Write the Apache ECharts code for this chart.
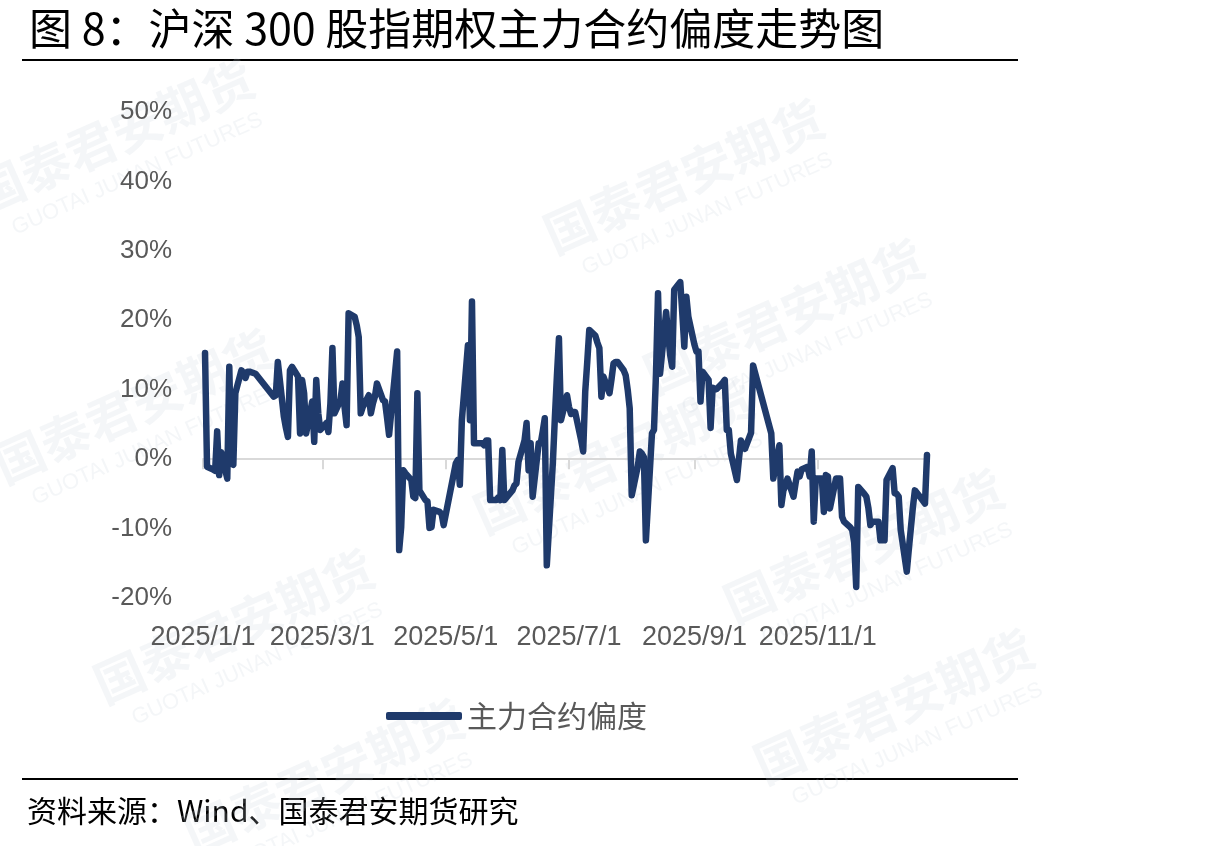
<!DOCTYPE html>
<html>
<head>
<meta charset="utf-8">
<script src="https://cdn.jsdelivr.net/npm/echarts@6/dist/echarts.min.js"></script>
<style>
html, body { margin: 0; padding: 0; background: #fff; }
#chart { width: 1220px; height: 846px; }
</style>
</head>
<body>
<div id="chart"></div>
<script>
// 交易日
var dates = [
    "2025-01-02","2025-01-03","2025-01-06","2025-01-07","2025-01-08","2025-01-09","2025-01-10","2025-01-13","2025-01-14","2025-01-15",
    "2025-01-16","2025-01-17","2025-01-20","2025-01-21","2025-01-22","2025-01-23","2025-01-24","2025-01-27",
    "2025-02-05","2025-02-06","2025-02-07","2025-02-10","2025-02-11","2025-02-12","2025-02-13","2025-02-14","2025-02-17","2025-02-18",
    "2025-02-19","2025-02-20","2025-02-21","2025-02-24","2025-02-25","2025-02-26","2025-02-27","2025-02-28",
    "2025-03-03","2025-03-04","2025-03-05","2025-03-06","2025-03-07","2025-03-10","2025-03-11","2025-03-12","2025-03-13","2025-03-14",
    "2025-03-17","2025-03-18","2025-03-19","2025-03-20","2025-03-21","2025-03-24","2025-03-25","2025-03-26","2025-03-27","2025-03-28","2025-03-31",
    "2025-04-01","2025-04-02","2025-04-03","2025-04-07","2025-04-08","2025-04-09","2025-04-10","2025-04-11","2025-04-14","2025-04-15",
    "2025-04-16","2025-04-17","2025-04-18","2025-04-21","2025-04-22","2025-04-23","2025-04-24","2025-04-25","2025-04-28","2025-04-29","2025-04-30",
    "2025-05-06","2025-05-07","2025-05-08","2025-05-09","2025-05-12","2025-05-13","2025-05-14","2025-05-15","2025-05-16","2025-05-19",
    "2025-05-20","2025-05-21","2025-05-22","2025-05-23","2025-05-26","2025-05-27","2025-05-28","2025-05-29","2025-05-30",
    "2025-06-03","2025-06-04","2025-06-05","2025-06-06","2025-06-09","2025-06-10","2025-06-11","2025-06-12","2025-06-13","2025-06-16",
    "2025-06-17","2025-06-18","2025-06-19","2025-06-20","2025-06-23","2025-06-24","2025-06-25","2025-06-26","2025-06-27","2025-06-30",
    "2025-07-01","2025-07-02","2025-07-03","2025-07-04","2025-07-07","2025-07-08","2025-07-09","2025-07-10","2025-07-11","2025-07-14",
    "2025-07-15","2025-07-16","2025-07-17","2025-07-18","2025-07-21","2025-07-22","2025-07-23","2025-07-24","2025-07-25","2025-07-28",
    "2025-07-29","2025-07-30","2025-07-31",
    "2025-08-01","2025-08-04","2025-08-05","2025-08-06","2025-08-07","2025-08-08","2025-08-11","2025-08-12","2025-08-13","2025-08-14",
    "2025-08-15","2025-08-18","2025-08-19","2025-08-20","2025-08-21","2025-08-22","2025-08-25","2025-08-26","2025-08-27","2025-08-28","2025-08-29",
    "2025-09-01","2025-09-02","2025-09-03","2025-09-04","2025-09-05","2025-09-08","2025-09-09","2025-09-10","2025-09-11","2025-09-12",
    "2025-09-15","2025-09-16","2025-09-17","2025-09-18","2025-09-19","2025-09-22","2025-09-23","2025-09-24","2025-09-25","2025-09-26",
    "2025-09-29","2025-09-30",
    "2025-10-09","2025-10-10","2025-10-13","2025-10-14","2025-10-15","2025-10-16","2025-10-17","2025-10-20","2025-10-21","2025-10-22",
    "2025-10-23","2025-10-24","2025-10-27","2025-10-28","2025-10-29","2025-10-30","2025-10-31",
    "2025-11-03","2025-11-04","2025-11-05","2025-11-06","2025-11-07","2025-11-10","2025-11-11","2025-11-12","2025-11-13","2025-11-14",
    "2025-11-17","2025-11-18","2025-11-19","2025-11-20","2025-11-21","2025-11-24","2025-11-25","2025-11-26","2025-11-27","2025-11-28",
    "2025-12-01","2025-12-02","2025-12-03","2025-12-04","2025-12-05","2025-12-08","2025-12-09","2025-12-10","2025-12-11","2025-12-12",
    "2025-12-15","2025-12-16","2025-12-17","2025-12-18","2025-12-19","2025-12-22","2025-12-23","2025-12-24","2025-12-25"
];
// 主力合约偏度(%)
var skew = [
    15.3, -1.1, -1.5, -1.7, 4.0, -2.3, 1.0, -2.8, 13.3, -0.6,
    -0.8, 9.5, 12.8, 12.4, 11.7, 12.6, 12.6, 12.3,
    9.0, 9.2, 14.0, 6.1, 4.5, 3.2, 12.8, 13.3, 11.9, 3.7,
    11.4, 9.5, 3.7, 8.3, 2.5, 11.4, 6.6, 4.2,
    5.2, 3.9, 8.0, 16.0, 6.6, 8.5, 10.9, 7.5, 4.9, 21.0,
    20.5, 19.3, 17.6, 6.6, 7.5, 9.2, 6.6, 8.0, 9.0, 10.9, 8.5,
    8.3, 6.0, 3.5, 15.5, -13.1, -9.8, -1.6, -2.0, -3.0, -5.4,
    -5.6, 9.5, -4.5, -5.9, -6.1, -9.9, -9.8, -7.3, -7.6, -7.9, -9.5,
    -0.6, -0.1, -3.7, 5.6, 16.4, 5.6, 22.7, 2.3, 2.3, 2.3,
    2.0, 2.7, 2.7, -5.9, -5.9, -5.5, -5.9, 1.3, -5.9,
    -4.5, -3.8, -3.5, -0.4, 2.7, 5.2, -1.6, 2.3, -5.4, 2.3,
    2.3, 4.0, 5.9, -15.3, -0.5, 6.0, 12.0, 17.4, 5.6, 9.2,
    7.5, 6.5, 6.8, 6.8, 2.7, 1.1, 9.7, 14.0, 18.6, 17.8,
    16.8, 16.0, 9.0, 11.9, 9.5, 11.5, 13.8, 14.0, 14.0, 12.8,
    12.1, 10.0, 7.3,
    -5.2, -1.0, 1.1, 0.8, 0.3, -11.7, 3.7, 4.2, 12.3, 23.9,
    12.3, 21.2, 18.0, 15.0, 13.3, 24.4, 25.5, 21.0, 16.2, 23.4, 20.5,
    16.5, 15.5, 15.5, 8.3, 12.6, 11.4, 4.5, 10.3, 10.0, 10.1,
    11.0, 11.4, 4.2, 4.2, 0.8, -3.0, 0.0, 2.7, 1.8, 1.5,
    3.8, 13.5,
    3.7, -2.8, 2.0, -6.6, -4.5, -3.8, -2.8, -5.4, -3.5, -1.8,
    -2.5, -1.5, -1.1, -2.5, 1.1, -9.0, -2.8,
    -2.8, -7.6, -2.3, -2.5, -7.1, -2.8, -2.8, -2.8, -8.3, -9.0,
    -9.8, -10.2, -12.0, -18.4, -4.0, -5.0, -5.4, -7.0, -9.5, -9.0,
    -9.0, -11.7, -11.7, -11.7, -3.0, -1.3, -4.9, -5.0, -5.4, -10.2,
    -16.2, -13.0, -10.0, -7.0, -4.5, -5.6, -6.0, -6.4, 0.6
];
// 横轴刻度日期
var tickDates = ["2025-01-01", "2025-03-01", "2025-05-01", "2025-07-01", "2025-09-01", "2025-11-01"];
var yMin = -20, yMax = 50, yStep = 10;
var seriesName = "主力合约偏度";

function toTime(s) {
    var p = s.split("-");
    return Date.UTC(+p[0], +p[1] - 1, +p[2]);
}

var tickValues = tickDates.map(toTime);
var lineData = [];
for (var i = 0; i < dates.length; i++) {
    lineData.push([toTime(dates[i]), skew[i]]);
}
var xMin = toTime("2025-01-01");
var xMax = toTime(dates[dates.length - 1]);

function fmtDate(v) {
    var d = new Date(v);
    return d.getUTCFullYear() + "/" + (d.getUTCMonth() + 1) + "/" + d.getUTCDate();
}

// 水印
var marks = [
    { x: 120, y: 150 }, { x: 690, y: 190 }, { x: 790, y: 330 }, { x: 140, y: 420 },
    { x: 620, y: 470 }, { x: 870, y: 560 }, { x: 240, y: 640 }, { x: 900, y: 720 }, { x: 330, y: 790 }
];
var graphics = [
    { type: "line", shape: { x1: 22, y1: 60, x2: 1018, y2: 60 }, style: { stroke: "#000", lineWidth: 2 } },
    { type: "line", shape: { x1: 22, y1: 779, x2: 1018, y2: 779 }, style: { stroke: "#000", lineWidth: 2 } },
    { type: "text", left: 27, top: 796, style: { text: "资料来源：Wind、国泰君安期货研究", font: "30px 'Noto Sans CJK SC'", fill: "#000" } }
];
marks.forEach(function (m) {
    graphics.push({
        type: "group", x: m.x, y: m.y, rotation: Math.PI / 7.5, z: -10, silent: true,
        children: [
            { type: "text", x: -150, y: -40, style: { text: "国泰君安期货", font: "bold 50px 'Noto Sans CJK SC'", fill: "rgba(200,208,220,0.2)" } },
            { type: "text", x: -130, y: 18, style: { text: "GUOTAI JUNAN FUTURES", font: "22px 'Liberation Sans'", fill: "rgba(200,208,220,0.2)" } }
        ]
    });
});

var chart = echarts.init(document.getElementById("chart"), null, { renderer: "canvas" });
var option = {
    backgroundColor: "#fff",
    animation: false,
    title: {
        text: "图 8：沪深 300 股指期权主力合约偏度走势图",
        left: 24, top: 2,
        textStyle: { fontSize: 43, fontWeight: "normal", color: "#000", fontFamily: "Noto Sans CJK SC" }
    },
    grid: { left: 203, right: 293, top: 112, bottom: 248, containLabel: false },
    legend: {
        data: [seriesName],
        left: 381, top: 696,
        icon: "roundRect",
        itemWidth: 76, itemHeight: 8,
        textStyle: { fontSize: 30, color: "#595959", fontFamily: "Noto Sans CJK SC" }
    },
    xAxis: [{
        type: "value",
        min: xMin, max: xMax,
        axisLine: { onZero: true, lineStyle: { color: "#d9d9d9", width: 2 } },
        axisTick: { show: true, length: 10, customValues: tickValues, lineStyle: { color: "#d9d9d9", width: 2 } },
        axisLabel: { show: false },
        splitLine: { show: false }
    }, {
        type: "value",
        position: "bottom",
        min: xMin, max: xMax,
        axisLine: { show: false, onZero: false },
        axisTick: { show: false },
        axisLabel: {
            customValues: tickValues,
            formatter: fmtDate,
            margin: 26,
            fontSize: 27, color: "#595959", fontFamily: "Liberation Sans",
            hideOverlap: false
        },
        splitLine: { show: false }
    }],
    yAxis: {
        type: "value",
        min: yMin, max: yMax, interval: yStep,
        axisLine: { show: false },
        axisTick: { show: false },
        splitLine: { show: false },
        axisLabel: { formatter: "{value}%", margin: 31, fontSize: 26, color: "#595959", fontFamily: "Liberation Sans" }
    },
    graphic: graphics,
    series: [{
        name: seriesName,
        type: "line",
        xAxisIndex: 0,
        data: lineData,
        symbol: "none",
        color: "#1f3a6b",
        lineStyle: { width: 6.5, color: "#1f3a6b", cap: "round", join: "round" }
    }]
};
chart.setOption(option);
</script>
</body>
</html>
